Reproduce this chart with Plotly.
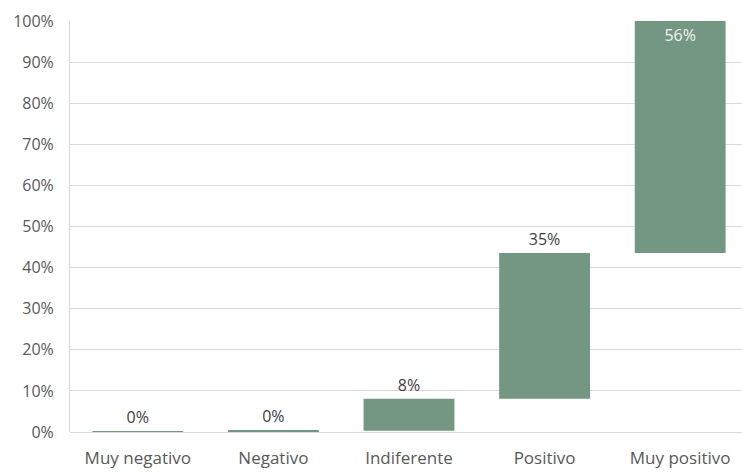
import plotly.graph_objects as go

categories = ["Muy negativo", "Negativo", "Indiferente", "Positivo", "Muy positivo"]
values = [0.2, 0.1, 7.8, 35.45, 56.45]
y_ticks = [0, 10, 20, 30, 40, 50, 60, 70, 80, 90, 100]
y_tick_labels = [f"{t}%" for t in y_ticks]

bases = []
acc = 0.0
for v in values:
    bases.append(acc)
    acc += v

texts = [f"{v:.0f}%" for v in values]
positions = ["outside"] * (len(values) - 1) + ["inside"]

bar_color = "#739782"
FONT = "Open Sans"
FS = 16

fig = go.Figure(go.Bar(
    x=categories,
    y=values,
    base=bases,
    marker=dict(color=bar_color, line=dict(width=0)),
    width=0.67,
    text=texts,
    textposition=positions,
    insidetextanchor="end",
    textfont=dict(family=FONT, size=FS),
    outsidetextfont=dict(family=FONT, size=FS, color="#404040"),
    insidetextfont=dict(family=FONT, size=FS, color="#f2f2f2"),
    cliponaxis=False,
))

fig.update_layout(
    width=742, height=472,
    margin=dict(l=70, r=0, t=21, b=40),
    plot_bgcolor="white", paper_bgcolor="white",
    showlegend=False,
    font=dict(family=FONT, size=FS, color="#595959"),
    xaxis=dict(
        range=[-0.5, 4.456],
        showgrid=False, showline=False, ticks="",
        ticklabelstandoff=14,
        tickfont=dict(family=FONT, size=FS + 1, color="#595959"),
    ),
    yaxis=dict(
        range=[0, 100],
        tickvals=y_ticks, ticktext=y_tick_labels,
        showgrid=True, gridcolor="#d9d9d9", gridwidth=1,
        showline=True, linecolor="#d9d9d9", linewidth=1,
        zeroline=True, zerolinecolor="#d9d9d9", zerolinewidth=1,
        ticks="", ticklabelstandoff=12,
        tickfont=dict(family=FONT, size=FS, color="#595959"),
    ),
)

fig.write_html("out.html")
